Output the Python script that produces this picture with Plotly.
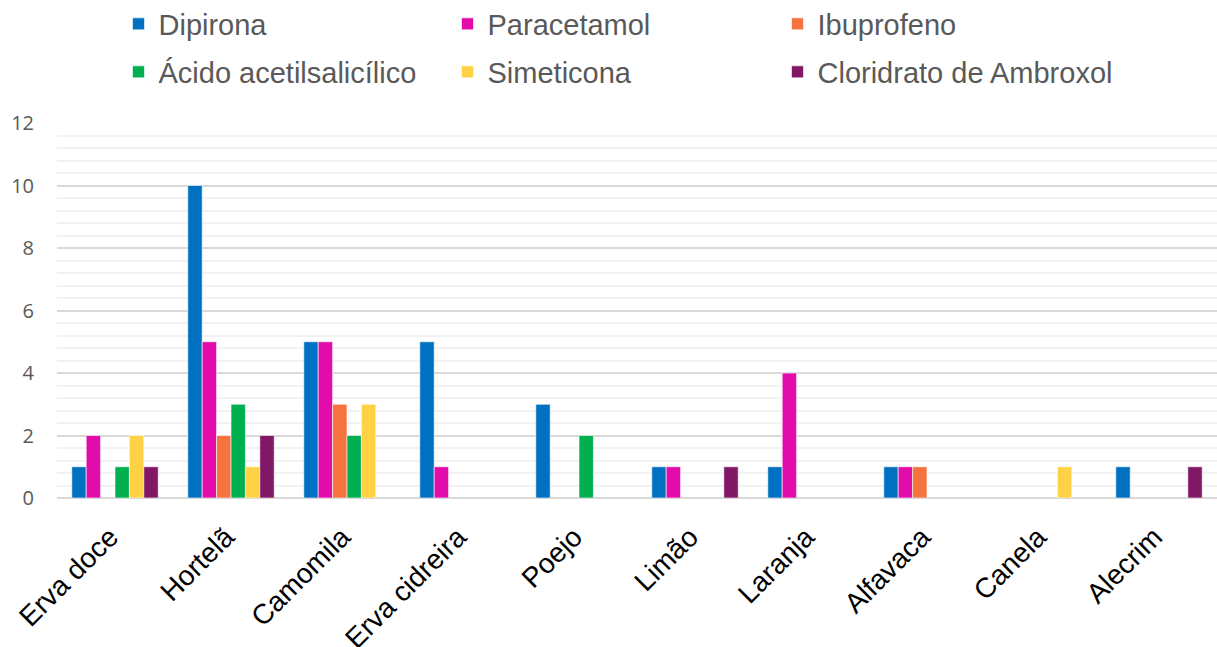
import plotly.graph_objects as go

# Plants used as home remedies, and how often each was combined with a medicine
plantas = ["Erva doce", "Hortelã", "Camomila", "Erva cidreira", "Poejo",
           "Limão", "Laranja", "Alfavaca", "Canela", "Alecrim"]

dipirona = [1, 10, 5, 5, 3, 1, 1, 1, 0, 1]
paracetamol = [2, 5, 5, 1, 0, 1, 4, 1, 0, 0]
ibuprofeno = [0, 2, 3, 0, 0, 0, 0, 1, 0, 0]
acido_acetilsalicilico = [1, 3, 2, 0, 2, 0, 0, 0, 0, 0]
simeticona = [2, 1, 3, 0, 0, 0, 0, 0, 1, 0]
ambroxol = [1, 2, 0, 0, 0, 1, 0, 0, 0, 1]

nomes = ["Dipirona", "Paracetamol", "Ibuprofeno",
         "Ácido acetilsalicílico", "Simeticona", "Cloridrato de Ambroxol"]
valores = [dipirona, paracetamol, ibuprofeno,
           acido_acetilsalicilico, simeticona, ambroxol]
cores = ["#0070C0", "#E20CAB", "#F5733E", "#00B050", "#FFD246", "#801866"]

y_ticks = [0, 2, 4, 6, 8, 10, 12]

# legend laid out as a 3 x 2 grid: one legend box per entry (container coords)
W, H = 1217, 647
col_x = [118.5, 447.5, 777.5]
row_y = [24, 72]

fig = go.Figure()
layout_legends = {}
legend_font = dict(family="Liberation Sans", size=29, color="#595959")
for i, (nome, vals, cor) in enumerate(zip(nomes, valores, cores)):
    key = f"legend{i + 2}"
    fig.add_trace(go.Bar(
        name=nome, x=plantas,
        # empty slots are left out so no outline is drawn on the baseline
        y=[v if v else None for v in vals],
        marker=dict(color=cor, line=dict(color="rgba(255,255,255,0.6)", width=1)),
        legend=key,
    ))
    layout_legends[key] = dict(
        orientation="h",
        xref="container", yref="container",
        x=col_x[i % 3] / W, y=1 - row_y[i // 3] / H,
        xanchor="left", yanchor="middle",
        font=legend_font, bgcolor="rgba(0,0,0,0)",
    )

fig.update_layout(
    width=W, height=H,
    margin=dict(l=57, r=0, t=123, b=149, autoexpand=False),
    paper_bgcolor="white", plot_bgcolor="white",
    barmode="group", bargap=0.255, bargroupgap=0,
    xaxis=dict(
        tickangle=-45,
        tickfont=dict(family="Liberation Sans", size=28, color="black"),
        showgrid=False, showline=False, ticks="",
        ticklabelstandoff=16, ticklabelshift=-5,
    ),
    yaxis=dict(
        range=[0, 12], tickvals=y_ticks, ticktext=[str(v) for v in y_ticks],
        tickfont=dict(family="Open Sans", size=20, color="#595959"),
        showgrid=True, gridcolor="#D9D9D9", gridwidth=1.6,
        zeroline=True, zerolinecolor="#D9D9D9", zerolinewidth=2,
        showline=False, ticks="", ticklabelstandoff=22,
        minor=dict(dtick=0.4, tick0=0, showgrid=True, gridcolor="#F2F2F2", gridwidth=1.6),
    ),
    **layout_legends,
)

fig.write_html("out.html")
